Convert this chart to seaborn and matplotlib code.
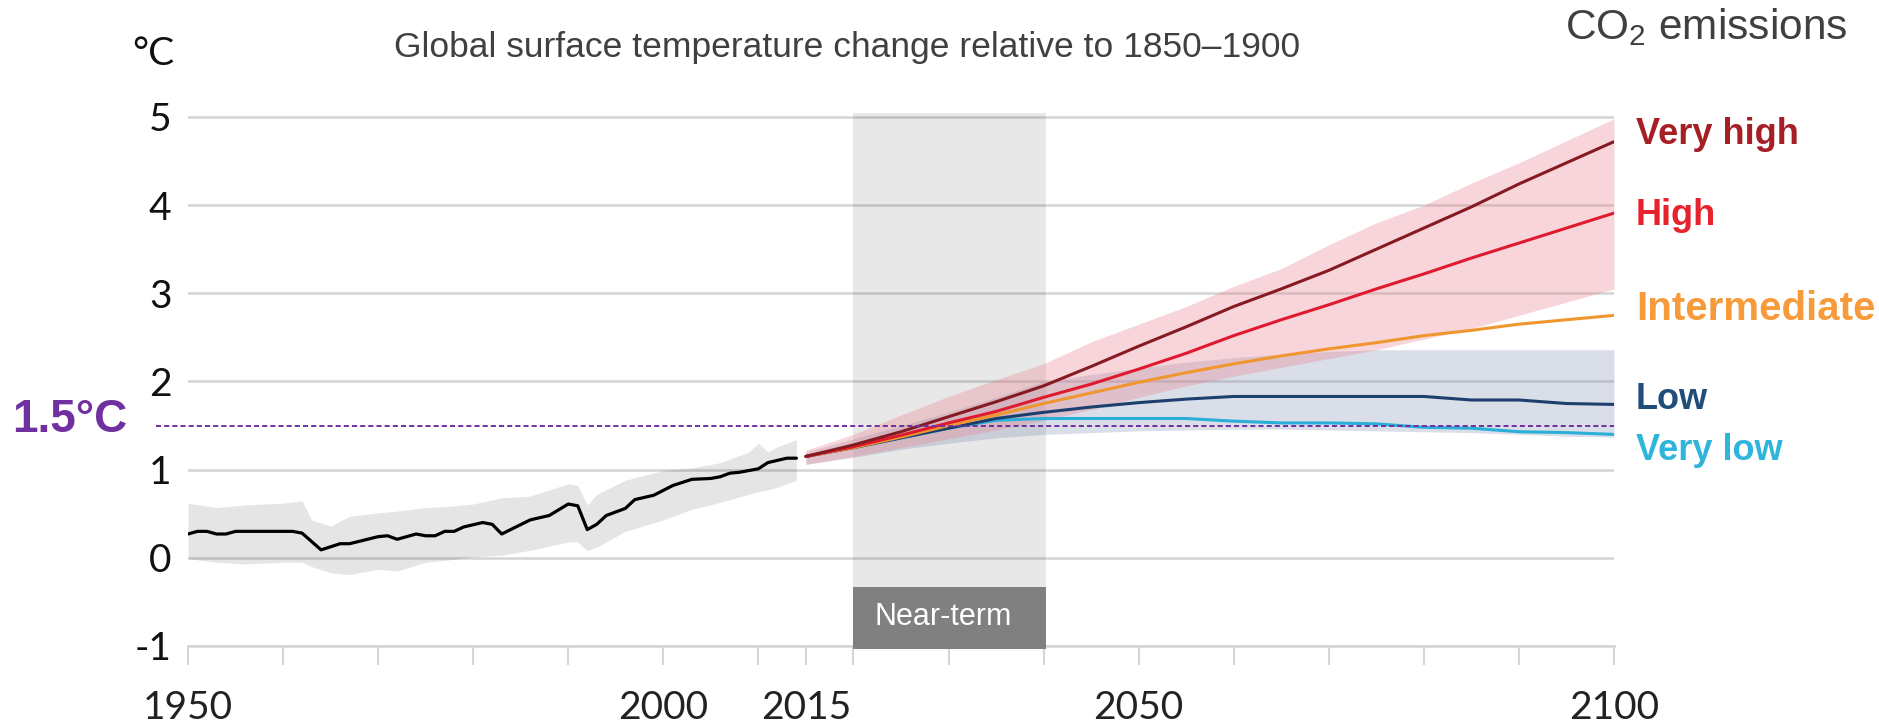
import matplotlib
matplotlib.use("Agg")
import matplotlib.pyplot as plt
from matplotlib.patches import Rectangle
import numpy as np
import pandas as pd
import seaborn as sns

# ---- observed warming (black line + grey range) ----
hist_years = [1950, 1951, 1952, 1953, 1954, 1955, 1961, 1962, 1964, 1966, 1967,
              1970, 1971, 1972, 1974, 1975, 1976, 1977, 1978, 1979, 1981, 1982,
              1983, 1986, 1988, 1990, 1991, 1992, 1993, 1994, 1996, 1997, 1999,
              2001, 2003, 2005, 2006, 2007, 2008, 2010, 2011, 2013, 2014]
hist_temp = [0.27, 0.30, 0.30, 0.27, 0.27, 0.30, 0.30, 0.28, 0.09, 0.16, 0.16,
             0.24, 0.25, 0.21, 0.27, 0.25, 0.25, 0.30, 0.30, 0.35, 0.40, 0.38,
             0.27, 0.43, 0.48, 0.61, 0.59, 0.32, 0.38, 0.48, 0.56, 0.66, 0.71,
             0.82, 0.89, 0.90, 0.92, 0.96, 0.97, 1.01, 1.08, 1.13, 1.13]

hist_band_years = [1950, 1953, 1956, 1960, 1962, 1963, 1965, 1967, 1970, 1972,
                   1975, 1977, 1980, 1983, 1986, 1990, 1991, 1992, 1993, 1996,
                   2000, 2003, 2006, 2009, 2010, 2011, 2012, 2014]
hist_upper = [0.62, 0.57, 0.60, 0.62, 0.645, 0.43, 0.36, 0.47, 0.51, 0.53,
              0.57, 0.58, 0.61, 0.68, 0.70, 0.84, 0.82, 0.60, 0.72, 0.88,
              0.99, 1.02, 1.08, 1.20, 1.30, 1.20, 1.26, 1.34]
hist_lower = [-0.01, -0.05, -0.07, -0.05, -0.05, -0.10, -0.17, -0.19, -0.13, -0.15,
              -0.05, -0.03, 0.01, 0.03, 0.085, 0.18, 0.18, 0.08, 0.12, 0.30,
              0.43, 0.55, 0.63, 0.72, 0.75, 0.77, 0.80, 0.88]

# ---- scenario projections ----
proj_years = [2015, 2020, 2025, 2030, 2035, 2040, 2045, 2050, 2055, 2060,
              2065, 2070, 2075, 2080, 2085, 2090, 2095, 2100]
very_high = [1.15, 1.28, 1.43, 1.60, 1.77, 1.95, 2.17, 2.40, 2.62, 2.85,
             3.05, 3.26, 3.50, 3.74, 3.98, 4.24, 4.48, 4.72]
high = [1.15, 1.26, 1.39, 1.53, 1.66, 1.82, 1.97, 2.14, 2.32, 2.52,
        2.70, 2.87, 3.05, 3.22, 3.40, 3.57, 3.74, 3.91]
intermediate = [1.15, 1.25, 1.37, 1.50, 1.62, 1.75, 1.87, 1.99, 2.10, 2.20,
                2.29, 2.37, 2.44, 2.52, 2.58, 2.65, 2.70, 2.75]
low = [1.15, 1.25, 1.36, 1.47, 1.58, 1.65, 1.71, 1.76, 1.80, 1.83,
       1.83, 1.83, 1.83, 1.83, 1.79, 1.79, 1.75, 1.74]
very_low = [1.15, 1.25, 1.36, 1.47, 1.56, 1.58, 1.58, 1.58, 1.58, 1.55,
            1.53, 1.53, 1.52, 1.48, 1.47, 1.43, 1.42, 1.40]

# uncertainty ranges for the high-emission and low-emission groups
high_band_upper = [1.22, 1.40, 1.62, 1.83, 2.02, 2.20, 2.45, 2.65, 2.85, 3.08,
                   3.28, 3.55, 3.80, 4.00, 4.25, 4.48, 4.73, 4.98]
high_band_lower = [1.06, 1.15, 1.25, 1.35, 1.45, 1.56, 1.68, 1.82, 1.95, 2.06,
                   2.16, 2.26, 2.36, 2.48, 2.60, 2.75, 2.90, 3.05]
low_band_upper = [1.20, 1.35, 1.50, 1.65, 1.82, 2.00, 2.08, 2.15, 2.22, 2.27,
                  2.31, 2.34, 2.36, 2.36, 2.36, 2.36, 2.36, 2.36]
low_band_lower = [1.06, 1.14, 1.23, 1.30, 1.36, 1.40, 1.42, 1.44, 1.45, 1.46,
                  1.46, 1.45, 1.44, 1.43, 1.42, 1.40, 1.38, 1.37]

scenario_names = ["Very high", "High", "Intermediate", "Low", "Very low"]
line_colors = ["#861a22", "#e01a2e", "#f0962e", "#1c3f6e", "#2ab0d8"]
label_colors = ["#a51f24", "#e6232d", "#f79a3a", "#1f4e79", "#2fb5dc"]
label_values = [4.80, 3.88, 2.82, 1.80, 1.22]
label_sizes = [26, 26, 29, 26, 26]

x_ticks = [1950, 1960, 1970, 1980, 1990, 2000, 2010, 2015, 2020, 2030, 2040,
           2050, 2060, 2070, 2080, 2090, 2100]
x_labelled = [1950, 2000, 2015, 2050, 2100]
y_ticks = [-1, 0, 1, 2, 3, 4, 5]
near_term = [2020, 2040.3]
threshold = 1.5

sns.set_theme(style="white")
plt.rcParams["font.family"] = ["Liberation Sans", "DejaVu Sans"]
plt.rcParams["mathtext.default"] = "regular"

fig = plt.figure(figsize=(18.79, 7.25), dpi=100)
ax = fig.add_axes([0.10005, 0.1090, 0.7589, 0.7345])
ax.set_xlim(1950, 2100)
ax.set_ylim(-1, 5.04)

# horizontal grid
for v in y_ticks:
    ax.axhline(v, color="#d6d6d6", lw=1.9, zorder=0.5)

# near-term period
ax.fill_between(near_term, -0.33, 5.04, color="black", alpha=0.09, lw=0, zorder=0.6)
ax.add_patch(Rectangle((near_term[0], -1.03), near_term[1] - near_term[0], 0.70,
                       facecolor="#808080", edgecolor="none", zorder=5, clip_on=False))
ax.text(2022.2, -0.67, "Near-term", color="white", fontsize=22, va="center",
        ha="left", zorder=6)

# observed range and line
ax.fill_between(hist_band_years, hist_lower, hist_upper, color="black",
                alpha=0.10, lw=0, zorder=1)
sns.lineplot(x=hist_years, y=hist_temp, color="black", lw=2.3, ax=ax, zorder=3)

# projection ranges
ax.fill_between(proj_years, low_band_lower, low_band_upper, color="#7887aa",
                alpha=0.27, lw=0, zorder=1)
ax.fill_between(proj_years, high_band_lower, high_band_upper, color="#e8828f",
                alpha=0.33, lw=0, zorder=1.1)

# scenario lines
proj = pd.DataFrame({
    "year": proj_years * 5,
    "temp": very_high + high + intermediate + low + very_low,
    "scenario": np.repeat(scenario_names, len(proj_years)),
})
draw_order = ["Very low", "Low", "Intermediate", "High", "Very high"]
sns.lineplot(data=proj, x="year", y="temp", hue="scenario",
             hue_order=draw_order,
             palette=dict(zip(scenario_names, line_colors)),
             lw=2.2, legend=False, ax=ax, zorder=3)

# 1.5 °C threshold
ax.plot([1946.6, 2100], [threshold, threshold], color="#7030a0", lw=1.4,
        dashes=(2.6, 1.6), zorder=4, clip_on=False)
fig.text(0.0064, 0.420, "1.5°C", color="#7030a0", fontsize=33,
         fontweight="bold", ha="left", va="center")

# scenario labels
for name, col, val, fs in zip(scenario_names, label_colors, label_values, label_sizes):
    ax.text(2102.3, val, name, color=col, fontsize=fs, fontweight="bold",
            ha="left", va="center", clip_on=False)

# axes styling
sns.despine(ax=ax, left=True, top=True, right=True, bottom=False)
ax.spines["bottom"].set_color("#d6d6d6")
ax.spines["bottom"].set_linewidth(1.9)
ax.set_xticks(x_ticks)
ax.set_xticklabels([str(t) if t in x_labelled else "" for t in x_ticks],
                   fontfamily="Lato", fontsize=28, color="#222222")
ax.tick_params(axis="x", direction="out", length=13.5, width=1.5,
               color="#d6d6d6", pad=18, bottom=True)
ax.set_yticks(y_ticks)
ax.set_yticklabels([str(t) for t in y_ticks], fontfamily="Lato", fontsize=28,
                   color="#111111")
ax.tick_params(axis="y", length=0, pad=12)
ax.set_xlabel("")
ax.set_ylabel("")

fig.text(0.0926, 0.9255, "°C", fontfamily="Lato", fontsize=28, color="#111111",
         ha="right", va="center")
fig.text(0.4509, 0.934, "Global surface temperature change relative to 1850–1900",
         fontsize=25.5, color="#404040", ha="center", va="center")
fig.text(0.983, 0.963, r"CO$_2$ emissions", fontsize=30.5, color="#404040",
         ha="right", va="center")

fig.savefig("out.png", dpi=100, facecolor="white")
